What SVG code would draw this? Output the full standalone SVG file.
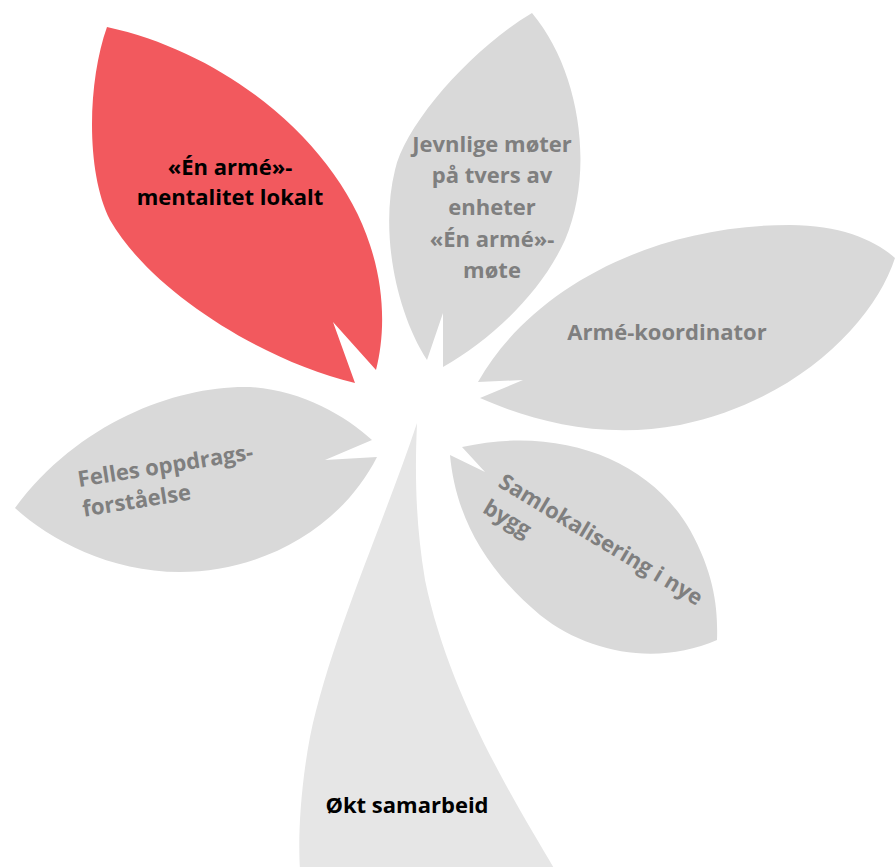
<svg xmlns="http://www.w3.org/2000/svg" width="896" height="867" viewBox="0 0 896 867">
<style>
.leaf{fill:#D9D9D9}
.hl{fill:#F2595E}
.stem{fill:#E6E6E6}
text{font-family:"Open Sans","Liberation Sans",sans-serif;font-weight:700;font-size:22px}
.g{fill:#7F7F7F}
.k{fill:#000000}
.c{text-anchor:middle}
</style>
<rect width="896" height="867" fill="#FFFFFF"/>
<g id="stem">
<path class="stem" d="M417,423 C385,520 330,640 310,737 C300,790 298,840 300,870 L555,870 C520,810 450,700 425,580 C415,520 415,470 417,423 Z"/>
<text class="k c" x="407" y="813">Økt samarbeid</text>
</g>
<g id="leaf-en-arme">
<path class="hl" d="M107,27 C235,55 340,150 370,245 C385,290 385,335 376,370 L333,322 L355,383 C260,360 150,290 110,220 C85,170 88,80 107,27 Z"/>
<text class="k c" x="230" y="175">«Én armé»-</text>
<text class="k c" x="230" y="205">mentalitet lokalt</text>
</g>
<g id="leaf-jevnlige">
<path class="leaf" d="M532,13 C580,70 595,170 565,240 C540,295 490,340 443,367 L443,313 L427,360 C395,310 380,230 395,170 C405,125 470,50 532,13 Z"/>
<text class="g c" x="492" y="152">Jevnlige møter</text>
<text class="g c" x="492" y="183">på tvers av</text>
<text class="g c" x="492" y="215">enheter</text>
<text class="g c" x="492" y="247">«Én armé»-</text>
<text class="g c" x="492" y="278">møte</text>
</g>
<g id="leaf-koordinator">
<path class="leaf" d="M478,382 C530,290 650,225 790,225 C840,225 875,240 895,258 C875,320 800,400 680,425 C600,440 530,420 480,398 L523,380 Z"/>
<text class="g c" x="667" y="340">Armé-koordinator</text>
</g>
<g id="leaf-felles">
<path class="leaf" d="M15,508 C80,420 180,385 250,387 C300,390 345,415 372,440 L325,460 L377,457 C340,530 260,572 180,572 C110,572 50,540 15,508 Z"/>
<text class="g" transform="translate(79,487) rotate(-9)"><tspan x="0" y="0">Felles oppdrags-</tspan><tspan x="0" y="30">forståelse</tspan></text>
</g>
<g id="leaf-samlokalisering">
<path class="leaf" d="M462,447 C560,425 650,460 690,530 C715,575 718,610 717,640 C660,665 590,655 540,615 C480,565 455,510 450,455 L485,472 Z"/>
<text class="g" transform="translate(497,486) rotate(31)"><tspan x="0" y="0">Samlokalisering i nye</tspan><tspan x="0" y="30">bygg</tspan></text>
</g>
<g id="connectors"></g>
</svg>
